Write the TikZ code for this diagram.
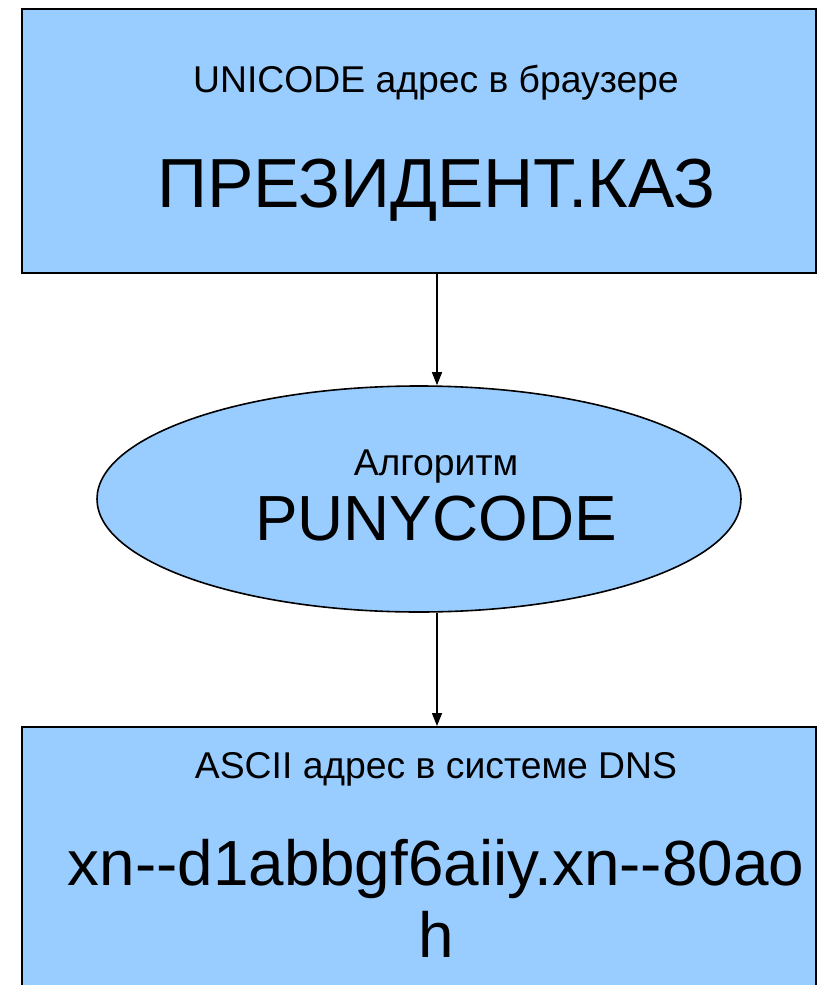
\documentclass[tikz,border=0pt]{standalone}
\usepackage{fontspec}
\setmainfont{Liberation Sans}
\usetikzlibrary{arrows.meta,shapes.geometric}
\definecolor{boxblue}{HTML}{99CCFF}
\tikzset{
  shapebox/.style={draw=black, fill=boxblue, line width=1.6pt, inner sep=0pt},
  linkarrow/.style={draw=black, line width=1.4pt, -{Triangle[length=13pt,width=10pt]}},
  smalltext/.style={anchor=base, inner sep=0pt, font=\fontsize{37.3}{44}\selectfont},
  bigtext/.style={anchor=base, inner sep=0pt, font=\fontsize{63.8}{72}\selectfont},
}
\begin{document}
\begin{tikzpicture}[x=1pt,y=-1pt]
\useasboundingbox (0,0) rectangle (824,985);
\clip (0,0) rectangle (824,985);
% shapes
\node[shapebox, rectangle, minimum width=794pt, minimum height=264pt, anchor=north west] (top) at (21,8) {};
\node[shapebox, ellipse, minimum width=644pt, minimum height=226pt] (algo) at (419,499) {};
\node[shapebox, rectangle, minimum width=794pt, minimum height=300pt, anchor=north west] (bottom) at (21,726) {};
% arrow axis
\coordinate (ax) at (437,0);
\draw[linkarrow] (top.south -| ax) -- (algo.north -| ax);
\draw[linkarrow] (algo.south -| ax) -- (bottom.north -| ax);
% texts
\node[smalltext] (t1) at (436,92) {UNICODE адрес в браузере};
\node[anchor=base, inner sep=0pt, font=\fontsize{69.5}{80}\selectfont] (t2) at (436.5,207) {ПРЕЗИДЕНТ.КАЗ};
\node[smalltext] (t3) at (436,475) {Алгоритм};
\node[bigtext] (t4) at (436,540) {PUNYCODE};
\node[smalltext] (t5) at (436,778) {ASCII адрес в системе DNS};
\node[bigtext, align=center] (t6) at (436,957) {xn-\kern0pt-d1abbgf6aiiy.xn-\kern0pt-80ao\\[0pt]h};
\end{tikzpicture}
\end{document}
